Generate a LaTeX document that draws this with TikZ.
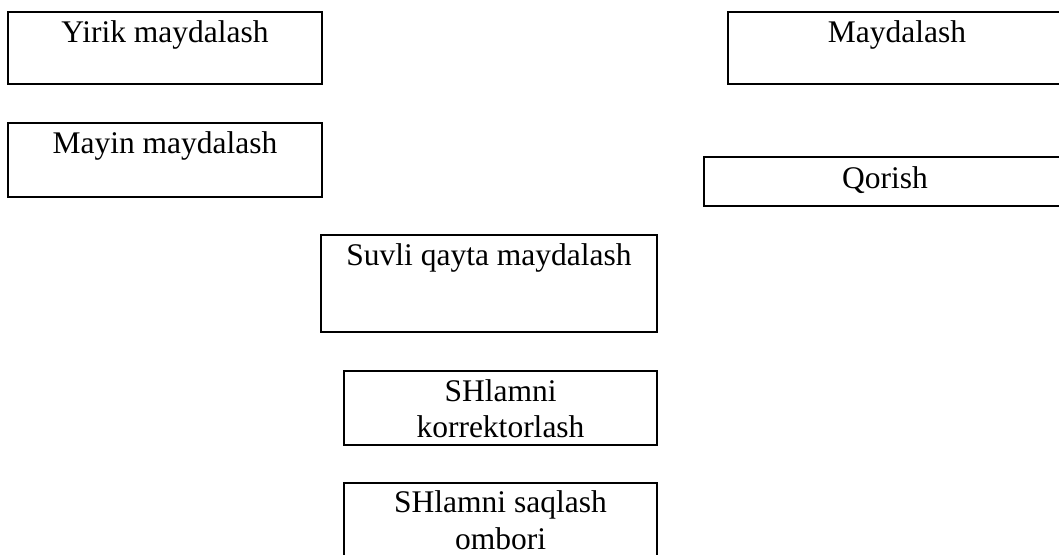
\documentclass[tikz,border=0pt]{standalone}
\usepackage{fontspec}
\setmainfont{Liberation Serif}
\usetikzlibrary{positioning}

\tikzset{
  stage/.style={draw, line width=1.9pt, anchor=north west, inner sep=0pt, outer sep=0pt},
  stagetext/.style={anchor=north, inner sep=0pt, align=center,
    font=\fontsize{31.5}{36.5}\selectfont}
}

\begin{document}
\begin{tikzpicture}[x=1pt, y=-1pt]
                \useasboundingbox (0, 0) rectangle (1059, 554);
                \clip (0, 0) rectangle (1059, 554);
                \node[stage, minimum width=314pt, minimum height=72pt] (yirik) at (8, 12) {};
                \node[stage, minimum width=314pt, minimum height=74pt] (mayin) at (8, 123) {};
                \node[stage, minimum width=338pt, minimum height=72pt] (mayda) at (728, 12) {};
                \node[stage, minimum width=362pt, minimum height=49pt] (qorish) at (704, 157) {};
                \node[stage, minimum width=336pt, minimum height=97pt] (suvli) at (321, 235) {};
                \node[stage, minimum width=313pt, minimum height=74pt] (korr) at (344, 371) {};
                \node[stage, minimum width=313pt, minimum height=80pt] (ombor) at (344, 483) {};
                % texts sit at the top of each box
                \node[stagetext] (yirikt) at ([yshift=-8.5pt]yirik.north) {Yirik maydalash};
                \node[stagetext] (mayint) at ([yshift=-8.5pt]mayin.north) {Mayin maydalash};
                \node[stagetext] (maydat) at ([yshift=-8.5pt]mayda.north) {Maydalash};
                \node[stagetext] (qorisht) at ([yshift=-9pt]qorish.north) {Qorish};
                \node[stagetext] (suvlit) at ([yshift=-8.5pt]suvli.north) {Suvli qayta maydalash};
                \node[stagetext] (korrt) at ([yshift=-8pt]korr.north) {SHlamni\\korrektorlash};
                \node[stagetext] (ombort) at ([yshift=-7.5pt]ombor.north) {SHlamni saqlash\\ombori};
            \end{tikzpicture}
\end{document}
